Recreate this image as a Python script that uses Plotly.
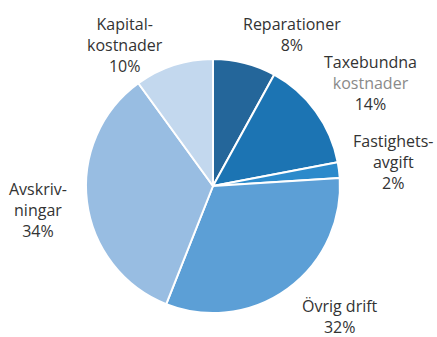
import plotly.graph_objects as go

categories = ["Reparationer", "Taxebundna kostnader", "Fastighetsavgift",
              "Övrig drift", "Avskrivningar", "Kapitalkostnader"]
values = [8, 14, 2, 32, 34, 10]
label_lines = [["Reparationer"], ["Taxebundna", "kostnader"], ["Fastighets-", "avgift"],
               ["Övrig drift"], ["Avskriv-", "ningar"], ["Kapital-", "kostnader"]]
colors = ["#24669a", "#1c74b3", "#2c8acb", "#5c9fd6", "#98bde2", "#c3d8ee"]

W, H = 437, 337
# label anchor positions (pixels: center x, top y)
label_pos = [(292, 11), (370, 49), (393, 128), (340, 293), (38, 176), (125, 11)]

fig = go.Figure(go.Pie(
    labels=categories, values=values, sort=False, direction="clockwise",
    rotation=0, marker=dict(colors=colors, line=dict(color="white", width=2)),
    textinfo="none", hoverinfo="label+percent",
    domain=dict(x=[86 / W, 340 / W], y=[(H - 313) / H, (H - 59) / H]),
    showlegend=False,
))

for cat, lines, v, (px, py) in zip(categories, label_lines, values, label_pos):
    parts = list(lines)
    if cat == "Taxebundna kostnader":
        parts[1] = "<span style='color:#8a8a8a'>" + parts[1] + "</span>"
    text = "<br>".join(parts + [f"{v}%"])
    fig.add_annotation(x=px / W, y=1 - py / H, xref="paper", yref="paper",
                       text=text, showarrow=False, xanchor="center", yanchor="top",
                       align="center", font=dict(family="Open Sans", size=16, color="#333333"))

fig.update_layout(width=W, height=H, margin=dict(l=0, r=0, t=0, b=0),
                  paper_bgcolor="white", plot_bgcolor="white")
fig.write_html("out.html")
